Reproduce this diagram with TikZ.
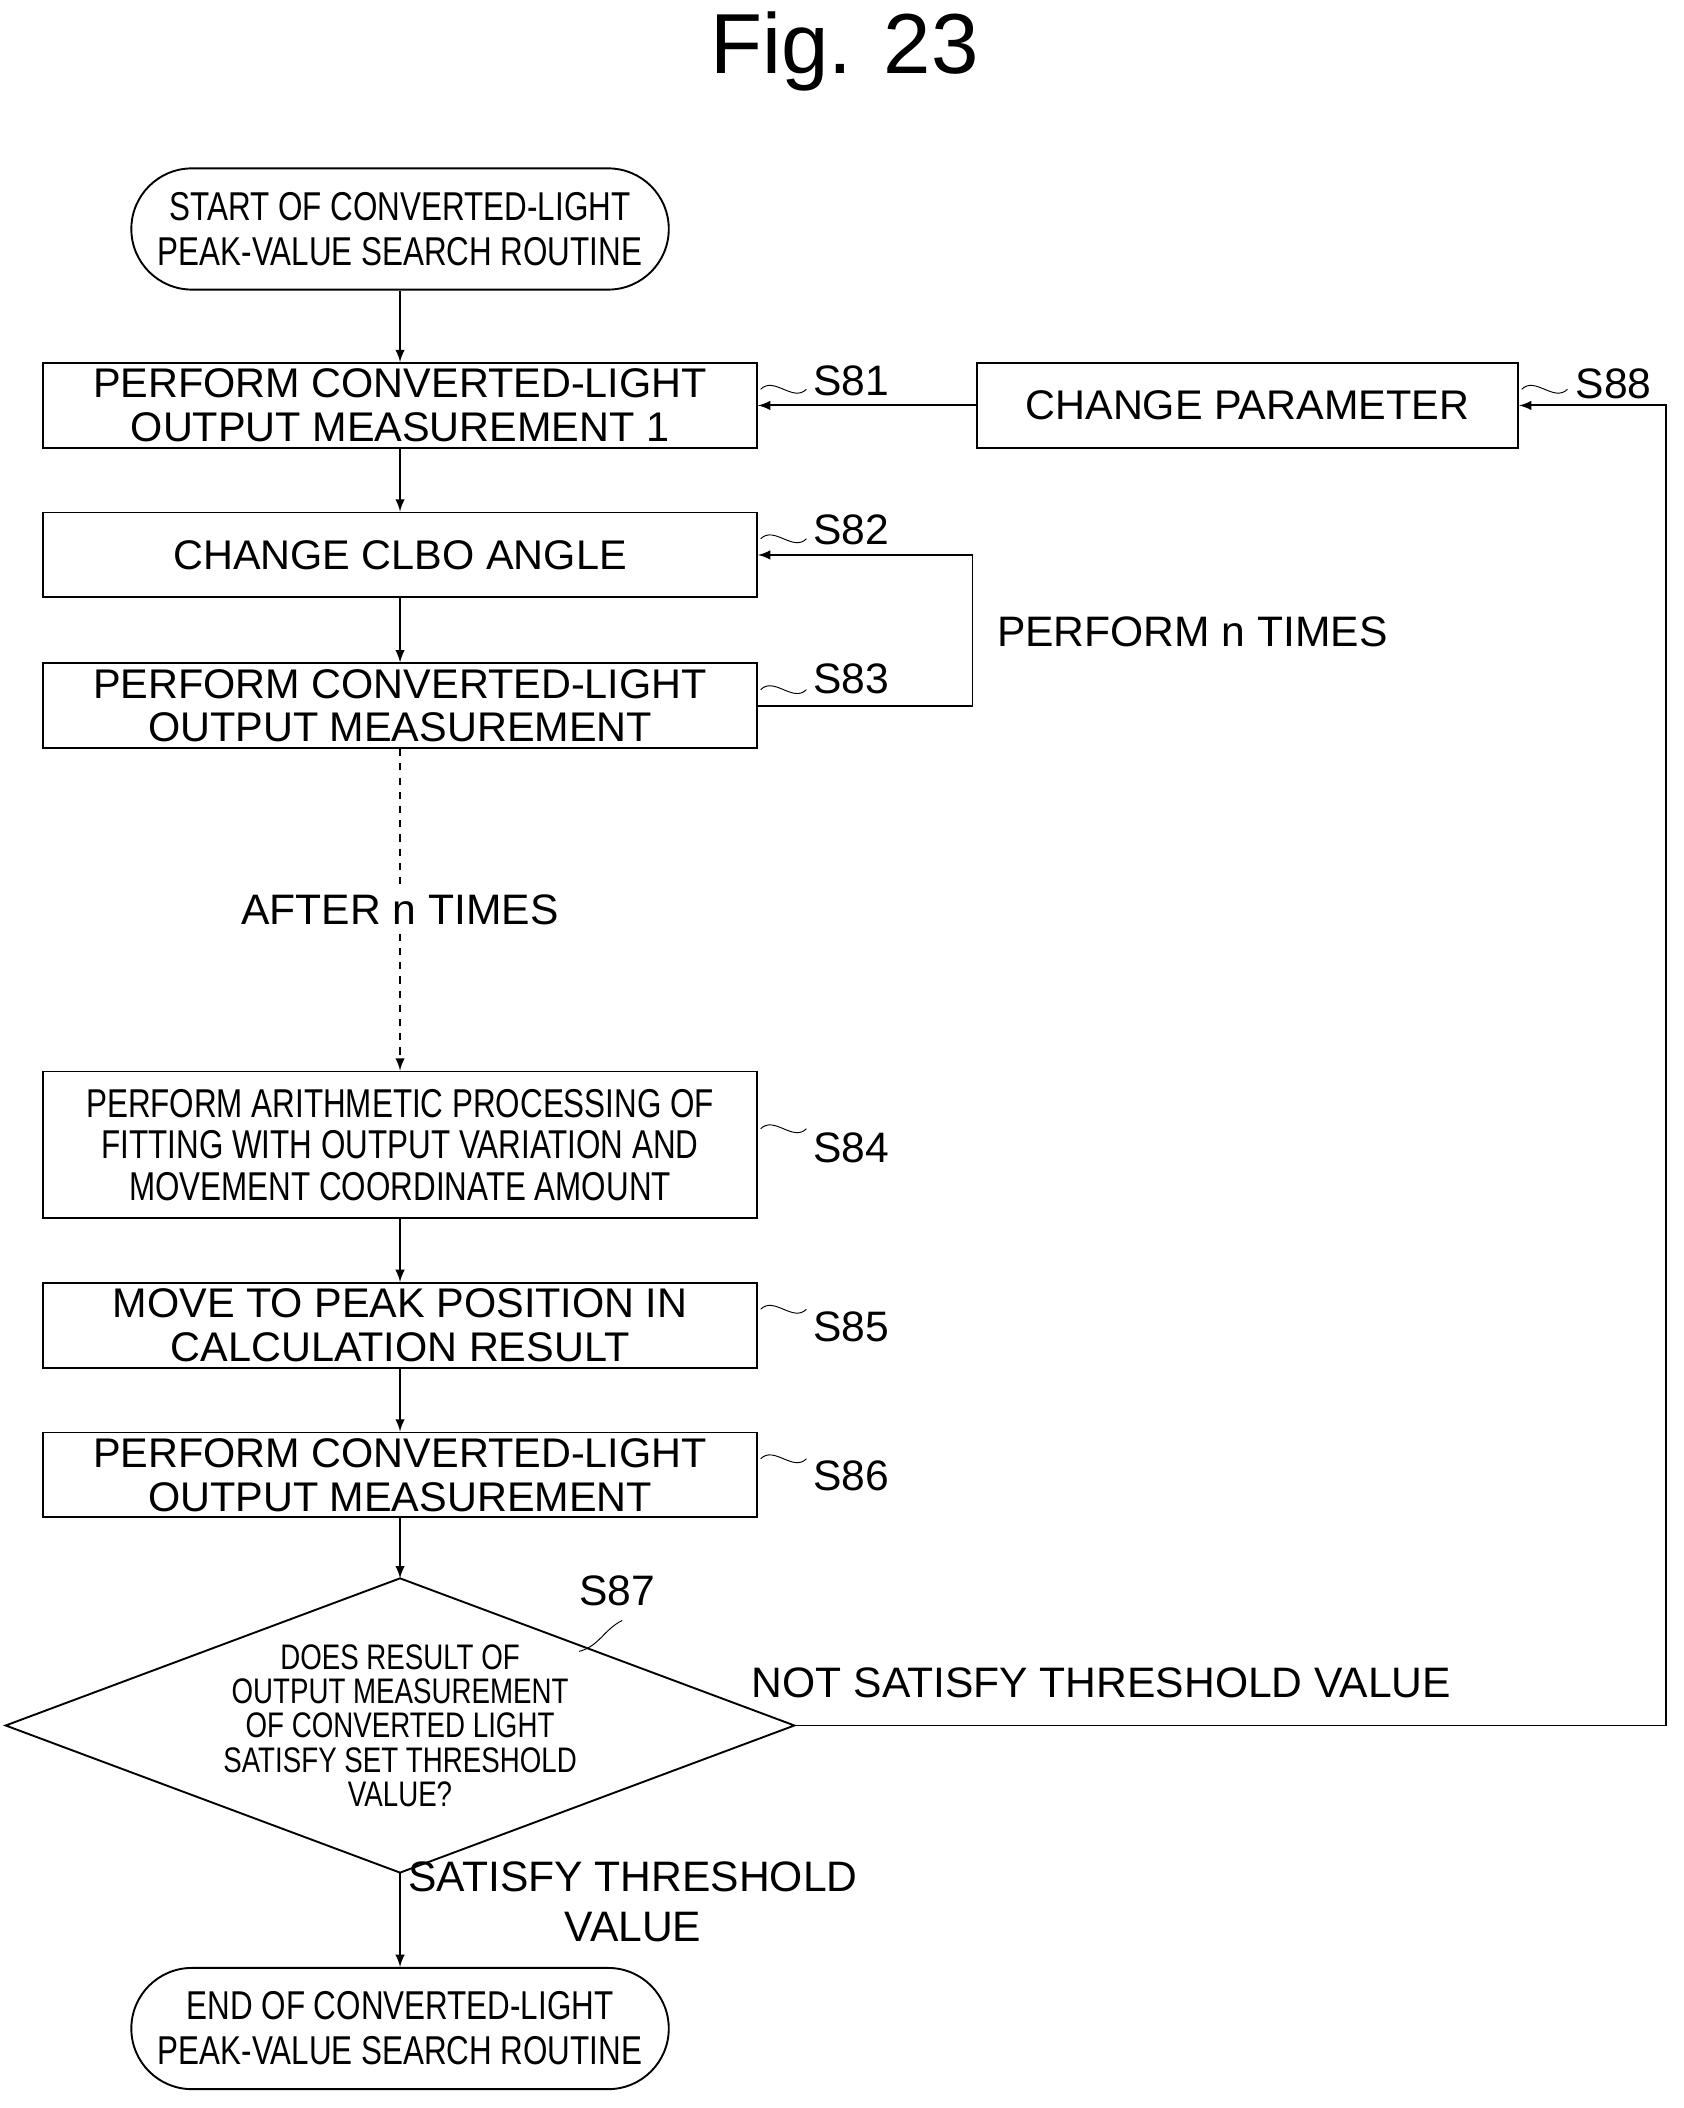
\documentclass[tikz,border=0pt]{standalone}
\usepackage{fontspec}
\setmainfont{Liberation Sans}
\usetikzlibrary{positioning,shapes.geometric}
\newcommand{\cnd}[1]{\scalebox{0.78}[1]{#1}}
\begin{document}
\begin{tikzpicture}[x=0.2mm,y=-0.2mm, every node/.style={align=center}, >=latex,
  stepbox/.style={rectangle, draw, thick, minimum width=106mm, minimum height=12.6mm, inner sep=0pt, font=\fontsize{17.5}{18.5}\selectfont},
  term/.style={rectangle, rounded corners=9mm, draw, thick, minimum width=79.8mm, minimum height=18mm, inner sep=0pt, font=\fontsize{17}{19}\selectfont},
  lbl/.style={font=\fontsize{18}{20}\selectfont},
  wave/.style={thin}]
\useasboundingbox (0,0) rectangle (1250,1565);

% title
\node (title) at (627,38) {\fontsize{36}{40}\selectfont Fig. 23};

% main flow nodes
\node (start) [term] at (297,170) {\cnd{START OF CONVERTED-LIGHT}\\\cnd{PEAK-VALUE SEARCH ROUTINE}};
\node (s81) [stepbox] at (297,301) {PERFORM CONVERTED-LIGHT\\OUTPUT MEASUREMENT 1};
\node (s82) [stepbox] at (297,412) {CHANGE CLBO ANGLE};
\node (s83) [stepbox] at (297,524) {PERFORM CONVERTED-LIGHT\\OUTPUT MEASUREMENT};
\node (s84) [stepbox, minimum height=21.8mm, font=\fontsize{17}{17.5}\selectfont] at (297,850) {\cnd{PERFORM ARITHMETIC PROCESSING OF}\\\cnd{FITTING WITH OUTPUT VARIATION AND}\\\cnd{MOVEMENT COORDINATE AMOUNT}};
\node (s85) [stepbox] at (297,984) {MOVE TO PEAK POSITION IN\\CALCULATION RESULT};
\node (s86) [stepbox] at (297,1095) {PERFORM CONVERTED-LIGHT\\OUTPUT MEASUREMENT};
\node (s87) [diamond, draw, thick, aspect=2.68, minimum width=108mm, inner sep=0pt, outer sep=0pt, font=\fontsize{15}{14.5}\selectfont] at (297,1281) {\cnd{DOES RESULT OF}\\\cnd{OUTPUT MEASUREMENT}\\\cnd{OF CONVERTED LIGHT}\\\cnd{SATISFY SET THRESHOLD}\\\cnd{VALUE?}};
\node (end) [term] at (297,1506) {\cnd{END OF CONVERTED-LIGHT}\\\cnd{PEAK-VALUE SEARCH ROUTINE}};
\node (s88) [stepbox, minimum width=80.4mm] at (926,301) {CHANGE PARAMETER};

% step labels
\node (l81) [lbl] at (632,283) {S81};
\node (l82) [lbl] at (632,393) {S82};
\node (l83) [lbl] at (632,504) {S83};
\node (l84) [lbl] at (632,852) {S84};
\node (l85) [lbl] at (632,985) {S85};
\node (l86) [lbl] at (632,1096) {S86};
\node (l87) [lbl] at (458,1181) {S87};
\node (l88) [lbl] at (1198,285) {S88};
\foreach \b/\l in {s81/l81,s82/l82,s83/l83,s84/l84,s85/l85,s86/l86,s88/l88}
  \draw[wave] (\b.east) ++(2,-12) .. controls +(10,-10) and +(-10,10) .. ++(34,0);
\draw[wave] (430,1226) .. controls (445,1222) and (448,1210) .. (462,1203);

% arrows
\draw[->, thick] (start) -- (s81);
\draw[->, thick] (s81) -- (s82);
\draw[->, thick] (s82) -- (s83);
\draw[->, thick, dashed] (s83) -- node[fill=white, lbl] {AFTER n TIMES} (s84);
\draw[->, thick] (s84) -- (s85);
\draw[->, thick] (s85) -- (s86);
\draw[->, thick] (s86) -- (s87);
\draw[->, thick] (s87) -- (end);
\draw[->, thick] (s88) -- (s81);
\draw[->, thick] (s83.east) -- (722,524) -- (722,412) -- (s82.east);
\draw[->, thick] (s87.east) -- (1237,1281) -- (1237,301) -- (s88.east);

% branch texts
\node (loop) [lbl, anchor=west] at (734,469) {PERFORM n TIMES};
\node (no) [lbl, anchor=west] at (552,1249) {NOT SATISFY THRESHOLD VALUE};
\node (yes) [lbl, font=\fontsize{18}{21}\selectfont] at (470,1412) {SATISFY THRESHOLD\\VALUE};
\end{tikzpicture}
\end{document}
